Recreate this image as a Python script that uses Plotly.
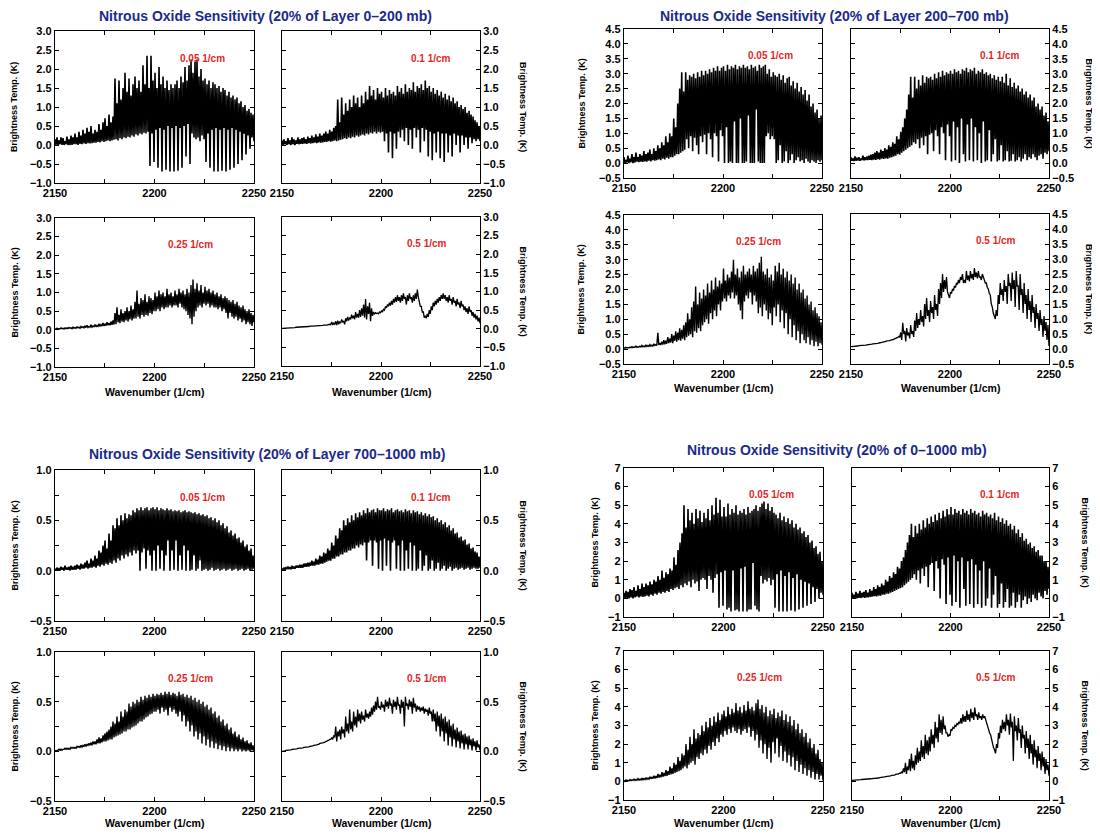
import numpy as np
import plotly.graph_objects as go

# wavenumber grid (1/cm) - each list below holds 100 line peaks and 100 troughs
wn_start, wn_end = 2150, 2250

# ---- Layer 0-200 mb ----
g1_005_hi = [0.15, 0.2, 0.12, 0.2, 0.18, 0.1, 0.22, 0.15, 0.25, 0.2,
             0.3, 0.2, 0.35, 0.25, 0.4, 0.3, 0.45, 0.35, 0.5, 0.3,
             0.4, 0.35, 0.55, 0.4, 0.6, 0.7, 0.5, 0.8, 0.6, 0.75,
             1.75, 1.1, 1.7, 1.2, 1.5, 1.9, 1.4, 1.75, 1.3, 1.6,
             1.8, 1.5, 1.7, 1.4, 2.1, 1.6, 2.35, 1.5, 2.35, 1.7,
             1.9, 1.5, 2.05, 1.6, 1.8, 1.5, 1.7, 1.45, 1.6, 1.5,
             1.6, 1.7, 1.5, 1.8, 1.65, 2.05, 1.7, 2.1, 2.25, 1.9,
             2.2, 2.25, 1.8, 2.0, 1.7, 1.75, 1.6, 1.7, 1.5, 1.65,
             1.6, 1.5, 1.55, 1.4, 1.5, 1.45, 1.3, 1.4, 1.25, 1.3,
             1.2, 1.25, 1.1, 1.15, 1.0, 1.05, 0.9, 0.95, 0.85, 0.8]
g1_005_lo = [0.0, 0.0, 0.02, 0.0, 0.0, 0.02, 0.0, 0.0, 0.0, 0.02,
             0.02, 0.0, 0.03, 0.02, 0.04, 0.03, 0.05, 0.04, 0.05, 0.06,
             0.06, 0.08, 0.07, 0.1, 0.08, 0.1, 0.12, 0.1, 0.12, 0.14,
             0.15, 0.12, 0.18, 0.15, 0.2, 0.18, 0.22, 0.2, 0.25, 0.22,
             0.28, 0.25, 0.3, 0.28, 0.32, 0.3, 0.35, -0.55, 0.3, -0.45,
             0.4, -0.6, 0.45, -0.7, 0.4, -0.65, 0.5, -0.7, 0.45, -0.7,
             0.5, -0.68, 0.45, -0.6, 0.5, -0.3, 0.55, -0.5, 0.3, 0.2,
             0.15, 0.2, 0.1, 0.25, 0.15, -0.45, 0.3, -0.6, 0.4, -0.7,
             0.45, -0.7, 0.4, -0.68, 0.45, -0.7, 0.4, -0.65, 0.45, -0.6,
             0.4, -0.5, 0.35, -0.4, 0.3, -0.25, 0.25, -0.1, 0.2, 0.1]
g1_01_hi = [0.12, 0.15, 0.1, 0.18, 0.12, 0.2, 0.15, 0.12, 0.2, 0.15,
            0.18, 0.2, 0.15, 0.22, 0.18, 0.25, 0.2, 0.28, 0.22, 0.3,
            0.25, 0.3, 0.35, 0.3, 0.4, 0.35, 0.45, 0.5, 1.2, 0.6,
            1.25, 0.8, 1.1, 0.9, 1.2, 1.0, 1.3, 1.1, 1.25, 1.0,
            1.3, 1.1, 1.4, 1.2, 1.55, 1.3, 1.45, 1.2, 1.5, 1.35,
            1.4, 1.25, 1.5, 1.3, 1.45, 1.35, 1.4, 1.3, 1.55, 1.4,
            1.5, 1.35, 1.6, 1.4, 1.5, 1.45, 1.65, 1.4, 1.55, 1.5,
            1.6, 1.45, 1.7, 1.5, 1.55, 1.4, 1.5, 1.35, 1.45, 1.3,
            1.4, 1.25, 1.35, 1.2, 1.3, 1.15, 1.25, 1.1, 1.15, 1.0,
            1.05, 0.95, 1.0, 0.85, 0.9, 0.8, 0.75, 0.65, 0.6, 0.5]
g1_01_lo = [0.0, 0.02, 0.0, 0.02, 0.0, 0.02, 0.0, 0.03, 0.02, 0.03,
            0.03, 0.04, 0.03, 0.05, 0.04, 0.05, 0.06, 0.05, 0.07, 0.06,
            0.07, 0.08, 0.08, 0.1, 0.09, 0.1, 0.12, 0.1, 0.12, 0.14,
            0.15, 0.18, 0.16, 0.2, 0.18, 0.22, 0.2, 0.25, 0.22, 0.25,
            0.28, 0.25, 0.3, 0.28, 0.32, 0.3, 0.35, 0.3, 0.35, 0.32,
            0.35, 0.1, 0.3, -0.2, 0.35, -0.35, 0.3, -0.1, 0.35, 0.2,
            0.4, 0.1, 0.45, 0.0, 0.4, -0.1, 0.45, 0.2, 0.4, -0.2,
            0.45, 0.1, 0.4, -0.3, 0.35, -0.4, 0.3, -0.2, 0.35, -0.35,
            0.3, -0.45, 0.3, -0.2, 0.25, -0.3, 0.3, 0.0, 0.25, -0.2,
            0.25, 0.0, 0.2, -0.1, 0.2, 0.05, 0.15, 0.1, 0.15, 0.1]
g1_025_hi = [0.03, 0.04, 0.03, 0.05, 0.04, 0.05, 0.05, 0.06, 0.05, 0.07,
             0.06, 0.08, 0.07, 0.09, 0.08, 0.1, 0.12, 0.09, 0.13, 0.1,
             0.14, 0.12, 0.16, 0.14, 0.18, 0.15, 0.2, 0.18, 0.22, 0.25,
             0.45, 0.6, 0.4, 0.55, 0.45, 0.5, 0.6, 0.5, 0.65, 0.55,
             0.75, 1.05, 0.7, 0.85, 0.8, 0.95, 0.75, 0.9, 0.85, 0.8,
             1.0, 0.9, 1.05, 0.95, 1.0, 0.9, 1.1, 0.95, 1.0, 0.9,
             1.05, 0.95, 1.1, 1.0, 1.05, 0.95, 1.1, 1.0, 1.2, 1.35,
             1.1, 1.25, 1.05, 1.2, 1.0, 1.15, 1.05, 1.1, 1.0, 1.05,
             0.95, 1.0, 0.9, 0.95, 0.85, 0.9, 0.85, 0.8, 0.75, 0.8,
             0.7, 0.75, 0.65, 0.6, 0.65, 0.55, 0.5, 0.55, 0.45, 0.4]
g1_025_lo = [0.01, 0.02, 0.02, 0.03, 0.02, 0.03, 0.03, 0.04, 0.03, 0.04,
             0.04, 0.05, 0.04, 0.06, 0.05, 0.06, 0.06, 0.07, 0.07, 0.08,
             0.08, 0.09, 0.09, 0.1, 0.1, 0.11, 0.12, 0.12, 0.13, 0.14,
             0.15, 0.2, 0.18, 0.22, 0.2, 0.25, 0.22, 0.28, 0.25, 0.3,
             0.3, 0.35, 0.3, 0.4, 0.35, 0.4, 0.38, 0.45, 0.42, 0.5,
             0.5, 0.55, 0.5, 0.6, 0.55, 0.6, 0.6, 0.65, 0.6, 0.65,
             0.65, 0.6, 0.7, 0.6, 0.55, 0.5, 0.4, 0.3, 0.15, 0.35,
             0.5, 0.6, 0.65, 0.6, 0.7, 0.65, 0.7, 0.6, 0.65, 0.6,
             0.6, 0.55, 0.6, 0.5, 0.55, 0.45, 0.3, 0.45, 0.35, 0.3,
             0.35, 0.25, 0.3, 0.2, 0.25, 0.15, 0.2, 0.15, 0.1, 0.2]
g1_05_hi = [0.01, 0.01, 0.02, 0.02, 0.03, 0.03, 0.03, 0.04, 0.04, 0.05,
            0.05, 0.05, 0.06, 0.06, 0.07, 0.07, 0.07, 0.08, 0.08, 0.09,
            0.09, 0.1, 0.1, 0.11, 0.12, 0.18, 0.15, 0.2, 0.22, 0.18,
            0.25, 0.2, 0.28, 0.32, 0.3, 0.38, 0.35, 0.45, 0.4, 0.5,
            0.55, 0.65, 0.8, 0.6, 0.7, 0.55, 0.45, 0.43, 0.42, 0.45,
            0.48, 0.52, 0.6, 0.65, 0.7, 0.75, 0.8, 0.85, 0.9, 0.85,
            0.9, 0.95, 0.85, 0.9, 0.95, 0.85, 0.9, 0.95, 1.05, 0.75,
            0.6, 0.45, 0.35, 0.4, 0.5, 0.6, 0.7, 0.75, 0.8, 0.85,
            0.9, 0.95, 0.9, 0.85, 0.9, 0.8, 0.85, 0.75, 0.8, 0.7,
            0.75, 0.65, 0.6, 0.55, 0.6, 0.5, 0.45, 0.4, 0.35, 0.3]
g1_05_lo = [0.01, 0.01, 0.02, 0.02, 0.02, 0.03, 0.03, 0.04, 0.04, 0.04,
            0.05, 0.05, 0.05, 0.06, 0.06, 0.07, 0.07, 0.07, 0.08, 0.08,
            0.09, 0.09, 0.1, 0.1, 0.11, 0.1, 0.12, 0.1, 0.12, 0.15,
            0.18, 0.12, 0.2, 0.22, 0.25, 0.28, 0.25, 0.3, 0.3, 0.32,
            0.35, 0.3, 0.25, 0.4, 0.2, 0.35, 0.4, 0.41, 0.4, 0.43,
            0.46, 0.5, 0.56, 0.6, 0.62, 0.65, 0.7, 0.72, 0.75, 0.7,
            0.75, 0.8, 0.65, 0.75, 0.8, 0.7, 0.75, 0.8, 0.85, 0.6,
            0.45, 0.3, 0.28, 0.32, 0.4, 0.5, 0.6, 0.65, 0.7, 0.75,
            0.8, 0.8, 0.75, 0.7, 0.75, 0.65, 0.7, 0.6, 0.65, 0.55,
            0.6, 0.5, 0.45, 0.4, 0.45, 0.35, 0.3, 0.25, 0.2, 0.15]

# ---- Layer 200-700 mb ----
g2_005_hi = [0.2, 0.1, 0.25, 0.15, 0.3, 0.2, 0.35, 0.2, 0.3, 0.25,
             0.4, 0.3, 0.35, 0.45, 0.3, 0.5, 0.4, 0.6, 0.5, 0.7,
             0.6, 0.9, 0.7, 1.0, 0.9, 1.5, 1.2, 2.0, 2.5, 3.05,
             2.4, 3.05, 2.8, 2.95, 2.9, 3.0, 2.85, 3.05, 2.9, 3.1,
             2.95, 3.1, 3.0, 3.15, 3.05, 3.2, 3.1, 3.25, 3.1, 3.2,
             3.25, 3.1, 3.3, 3.15, 3.25, 3.2, 3.3, 3.15, 3.25, 3.2,
             3.3, 3.2, 3.25, 3.15, 3.3, 3.2, 3.25, 3.1, 3.3, 3.2,
             3.25, 3.3, 3.0, 3.15, 2.9, 3.05, 2.95, 2.9, 3.0, 2.8,
             2.95, 2.7, 2.85, 2.9, 2.6, 2.75, 2.5, 2.7, 2.4, 2.55,
             2.3, 2.45, 2.1, 2.3, 1.9, 2.0, 1.7, 1.8, 1.5, 1.6]
g2_005_lo = [0.0, 0.02, 0.0, 0.03, 0.0, 0.02, 0.05, 0.03, 0.05, 0.04,
             0.06, 0.05, 0.08, 0.06, 0.1, 0.08, 0.1, 0.12, 0.1, 0.15,
             0.12, 0.18, 0.15, 0.2, 0.2, 0.25, 0.3, 0.3, 0.35, 0.4,
             0.45, 0.8, 0.5, 0.9, 0.4, 0.85, 0.6, 0.3, 0.9, 0.7,
             0.95, 0.3, 1.0, 0.8, 0.2, 1.0, 0.9, 0.05, 1.1, 0.9,
             0.0, 1.2, 0.0, 0.05, 0.0, 1.4, 0.0, 0.0, 1.5, 0.0,
             0.0, 0.05, 1.6, 0.0, 0.0, 0.0, 1.8, 0.05, 0.0, 0.0,
             0.0, 0.9, 1.0, 0.8, 0.9, 0.8, 0.0, 0.1, 0.6, 0.0,
             0.05, 0.4, 0.0, 0.1, 0.3, 0.0, 0.1, 0.2, 0.05, 0.1,
             0.0, 0.15, 0.05, 0.0, 0.1, 0.05, 0.0, 0.1, 0.05, 0.1]
g2_01_hi = [0.2, 0.15, 0.22, 0.18, 0.2, 0.15, 0.25, 0.2, 0.22, 0.25,
            0.28, 0.3, 0.35, 0.4, 0.35, 0.45, 0.4, 0.5, 0.45, 0.6,
            0.55, 0.7, 0.65, 0.9, 0.8, 1.05, 1.2, 1.5, 1.8, 2.3,
            2.9, 2.2, 2.9, 2.5, 2.8, 2.6, 2.95, 2.7, 2.9, 2.85,
            2.9, 2.8, 3.0, 2.85, 3.05, 2.9, 3.1, 2.95, 3.05, 3.0,
            3.1, 3.0, 3.15, 3.05, 3.1, 3.0, 3.15, 3.1, 3.2, 3.05,
            3.15, 3.1, 3.2, 3.0, 3.1, 3.05, 3.15, 3.0, 3.05, 2.95,
            3.0, 2.85, 2.95, 2.8, 2.9, 2.75, 2.9, 2.7, 3.0, 2.6,
            2.85, 2.55, 2.7, 2.5, 2.6, 2.4, 2.5, 2.3, 2.4, 2.2,
            2.3, 2.1, 2.2, 1.9, 2.0, 1.8, 1.9, 1.6, 1.7, 1.4]
g2_01_lo = [0.08, 0.07, 0.08, 0.09, 0.08, 0.1, 0.09, 0.1, 0.1, 0.11,
            0.1, 0.12, 0.11, 0.13, 0.12, 0.15, 0.14, 0.16, 0.15, 0.18,
            0.2, 0.22, 0.25, 0.3, 0.28, 0.35, 0.4, 0.45, 0.5, 0.55,
            0.6, 0.7, 0.65, 0.8, 0.5, 0.85, 0.6, 0.9, 0.3, 0.95,
            1.0, 0.4, 1.1, 0.9, 0.3, 1.2, 1.0, 0.1, 1.3, 0.9,
            0.05, 1.4, 0.1, 1.2, 0.0, 1.5, 0.3, 0.05, 1.3, 0.1,
            1.5, 0.05, 1.2, 0.1, 1.0, 0.0, 1.4, 0.05, 0.1, 1.1,
            0.05, 0.3, 0.8, 0.05, 0.1, 0.6, 0.05, 0.1, 0.4, 0.05,
            0.08, 0.3, 0.05, 0.1, 0.2, 0.05, 0.15, 0.3, 0.1, 0.2,
            0.15, 0.3, 0.2, 0.1, 0.25, 0.3, 0.15, 0.35, 0.3, 0.4]
g2_025_hi = [0.05, 0.06, 0.05, 0.07, 0.08, 0.07, 0.1, 0.08, 0.1, 0.12,
             0.1, 0.13, 0.12, 0.15, 0.13, 0.18, 0.15, 0.55, 0.2, 0.25,
             0.3, 0.28, 0.4, 0.35, 0.5, 0.45, 0.6, 0.55, 0.7, 0.65,
             0.8, 0.9, 1.2, 1.0, 1.4, 1.6, 2.1, 1.5, 1.9, 1.7,
             2.0, 1.8, 2.2, 1.9, 2.3, 2.0, 2.4, 2.1, 2.3, 2.2,
             2.7, 2.3, 2.5, 2.4, 2.6, 3.0, 2.5, 2.7, 2.4, 2.6,
             2.8, 2.5, 2.6, 2.7, 2.5, 2.8, 2.6, 2.7, 2.9, 3.1,
             2.6, 2.5, 2.7, 2.4, 2.5, 2.3, 2.8, 2.6, 2.9, 2.5,
             2.7, 2.4, 2.6, 2.3, 2.5, 2.2, 2.4, 2.0, 2.2, 1.9,
             2.0, 1.7, 1.8, 1.5, 1.6, 1.3, 1.4, 1.2, 1.1, 0.9]
g2_025_lo = [0.03, 0.04, 0.04, 0.05, 0.05, 0.06, 0.06, 0.07, 0.07, 0.08,
             0.08, 0.09, 0.09, 0.1, 0.1, 0.12, 0.12, 0.14, 0.14, 0.15,
             0.16, 0.18, 0.2, 0.22, 0.2, 0.28, 0.25, 0.3, 0.28, 0.35,
             0.3, 0.4, 0.45, 0.5, 0.4, 0.6, 0.55, 0.7, 0.6, 0.8,
             0.9, 1.0, 0.85, 1.2, 1.0, 1.3, 1.1, 1.5, 1.3, 1.6,
             1.7, 1.6, 1.8, 1.7, 1.9, 1.7, 1.8, 1.5, 1.3, 1.0,
             1.6, 1.8, 1.7, 1.9, 1.5, 1.8, 1.6, 1.2, 1.4, 1.1,
             1.5, 1.3, 1.0, 1.2, 0.8, 1.4, 1.1, 1.5, 0.9, 1.3,
             0.7, 1.2, 0.5, 1.0, 0.4, 0.8, 0.3, 0.6, 0.2, 0.5,
             0.3, 0.2, 0.4, 0.15, 0.3, 0.1, 0.25, 0.1, 0.2, 0.15]
g2_05_hi = [0.08, 0.09, 0.1, 0.1, 0.11, 0.12, 0.12, 0.13, 0.14, 0.15,
            0.16, 0.17, 0.18, 0.19, 0.2, 0.22, 0.23, 0.25, 0.27, 0.28,
            0.3, 0.32, 0.35, 0.38, 0.42, 0.55, 0.87, 0.6, 0.7, 0.55,
            0.8, 0.6, 0.95, 1.2, 1.0, 1.3, 1.1, 1.5, 1.7, 1.3,
            1.6, 1.4, 1.8, 1.5, 2.0, 2.2, 2.5, 2.3, 2.4, 1.8,
            1.9, 2.0, 2.1, 2.2, 2.3, 2.4, 2.5, 2.3, 2.6, 2.45,
            2.6, 2.5, 2.7, 2.55, 2.6, 2.4, 2.5, 2.3, 2.2, 2.0,
            1.8, 1.4, 1.05, 1.3, 1.8, 2.2, 2.0, 2.3, 2.1, 2.5,
            2.2, 2.55, 2.3, 2.6, 2.1, 2.5, 2.0, 2.2, 1.8, 2.0,
            1.6, 1.8, 1.4, 1.5, 1.2, 1.3, 1.0, 1.1, 0.9, 0.8]
g2_05_lo = [0.08, 0.09, 0.1, 0.1, 0.11, 0.12, 0.12, 0.13, 0.14, 0.15,
            0.16, 0.17, 0.18, 0.19, 0.2, 0.22, 0.23, 0.25, 0.27, 0.28,
            0.3, 0.32, 0.35, 0.38, 0.4, 0.3, 0.5, 0.25, 0.45, 0.35,
            0.5, 0.4, 0.6, 0.7, 0.8, 0.9, 0.75, 1.0, 1.1, 0.9,
            1.2, 1.0, 1.3, 1.1, 1.5, 1.7, 1.9, 2.0, 1.9, 1.7,
            1.85, 1.95, 2.05, 2.15, 2.2, 2.3, 2.2, 2.2, 2.3, 2.25,
            2.35, 2.3, 2.4, 2.35, 2.4, 2.3, 2.35, 2.2, 2.05, 1.85,
            1.5, 1.2, 1.0, 1.1, 1.5, 1.8, 1.6, 1.9, 1.5, 2.1,
            1.6, 2.0, 1.4, 2.1, 1.3, 1.8, 1.2, 1.5, 1.0, 1.3,
            0.9, 1.2, 0.7, 1.0, 0.6, 0.8, 0.4, 0.6, 0.3, 0.1]

# ---- Layer 700-1000 mb ----
g3_005_hi = [0.02, 0.03, 0.02, 0.04, 0.03, 0.05, 0.03, 0.04, 0.05, 0.04,
             0.05, 0.06, 0.05, 0.07, 0.06, 0.08, 0.1, 0.07, 0.12, 0.1,
             0.15, 0.12, 0.2, 0.18, 0.25, 0.3, 0.22, 0.37, 0.3, 0.45,
             0.42, 0.52, 0.45, 0.55, 0.5, 0.57, 0.52, 0.56, 0.55, 0.6,
             0.58, 0.62, 0.6, 0.63, 0.6, 0.62, 0.63, 0.6, 0.62, 0.63,
             0.61, 0.63, 0.6, 0.62, 0.61, 0.6, 0.62, 0.6, 0.61, 0.59,
             0.6, 0.59, 0.6, 0.58, 0.59, 0.6, 0.58, 0.59, 0.58, 0.57,
             0.58, 0.56, 0.57, 0.55, 0.56, 0.54, 0.55, 0.52, 0.53, 0.5,
             0.52, 0.48, 0.5, 0.45, 0.47, 0.42, 0.44, 0.38, 0.4, 0.35,
             0.37, 0.32, 0.33, 0.28, 0.3, 0.24, 0.26, 0.2, 0.22, 0.15]
g3_005_lo = [0.0, 0.01, 0.0, 0.01, 0.0, 0.01, 0.01, 0.0, 0.01, 0.01,
             0.01, 0.02, 0.01, 0.02, 0.02, 0.03, 0.02, 0.03, 0.03, 0.04,
             0.03, 0.05, 0.04, 0.06, 0.05, 0.07, 0.06, 0.08, 0.07, 0.1,
             0.08, 0.12, 0.1, 0.15, 0.12, 0.16, 0.14, 0.18, 0.15, 0.2,
             0.17, 0.2, 0.0, 0.18, 0.22, 0.02, 0.2, 0.15, 0.0, 0.2,
             0.0, 0.25, 0.02, 0.2, 0.0, 0.15, 0.3, 0.0, 0.2, 0.01,
             0.3, 0.0, 0.15, 0.01, 0.25, 0.0, 0.2, 0.0, 0.01, 0.15,
             0.0, 0.02, 0.1, 0.0, 0.01, 0.02, 0.0, 0.01, 0.03, 0.0,
             0.01, 0.02, 0.0, 0.01, 0.02, 0.0, 0.01, 0.02, 0.0, 0.01,
             0.02, 0.0, 0.01, 0.02, 0.0, 0.01, 0.02, 0.0, 0.01, 0.02]
g3_01_hi = [0.02, 0.03, 0.03, 0.04, 0.03, 0.05, 0.04, 0.05, 0.05, 0.06,
            0.06, 0.07, 0.07, 0.08, 0.08, 0.1, 0.09, 0.12, 0.11, 0.15,
            0.14, 0.18, 0.17, 0.22, 0.2, 0.28, 0.25, 0.35, 0.32, 0.42,
            0.4, 0.5, 0.45, 0.52, 0.48, 0.55, 0.5, 0.57, 0.53, 0.58,
            0.55, 0.6, 0.57, 0.62, 0.58, 0.6, 0.61, 0.58, 0.62, 0.6,
            0.6, 0.62, 0.59, 0.61, 0.6, 0.62, 0.58, 0.6, 0.61, 0.59,
            0.6, 0.58, 0.61, 0.59, 0.6, 0.57, 0.6, 0.58, 0.59, 0.56,
            0.58, 0.55, 0.57, 0.54, 0.56, 0.53, 0.54, 0.5, 0.52, 0.48,
            0.5, 0.46, 0.48, 0.43, 0.45, 0.4, 0.42, 0.37, 0.38, 0.33,
            0.34, 0.3, 0.31, 0.26, 0.27, 0.22, 0.23, 0.19, 0.18, 0.14]
g3_01_lo = [0.01, 0.01, 0.02, 0.02, 0.02, 0.02, 0.02, 0.03, 0.03, 0.03,
            0.03, 0.04, 0.04, 0.04, 0.05, 0.05, 0.05, 0.06, 0.06, 0.07,
            0.07, 0.08, 0.09, 0.1, 0.1, 0.12, 0.12, 0.14, 0.14, 0.16,
            0.16, 0.18, 0.18, 0.2, 0.2, 0.22, 0.22, 0.25, 0.23, 0.26,
            0.25, 0.28, 0.1, 0.28, 0.3, 0.05, 0.3, 0.28, 0.02, 0.3,
            0.0, 0.32, 0.05, 0.3, 0.0, 0.28, 0.3, 0.02, 0.25, 0.0,
            0.3, 0.0, 0.2, 0.02, 0.28, 0.0, 0.25, 0.0, 0.02, 0.2,
            0.0, 0.05, 0.15, 0.0, 0.02, 0.1, 0.0, 0.02, 0.08, 0.0,
            0.02, 0.05, 0.0, 0.02, 0.04, 0.0, 0.02, 0.03, 0.01, 0.02,
            0.03, 0.01, 0.02, 0.03, 0.01, 0.02, 0.03, 0.02, 0.02, 0.03]
g3_025_hi = [0.01, 0.01, 0.02, 0.02, 0.02, 0.03, 0.03, 0.03, 0.04, 0.04,
             0.04, 0.05, 0.05, 0.06, 0.06, 0.07, 0.07, 0.08, 0.09, 0.1,
             0.1, 0.12, 0.14, 0.13, 0.16, 0.18, 0.2, 0.22, 0.25, 0.3,
             0.28, 0.35, 0.3, 0.4, 0.35, 0.42, 0.4, 0.48, 0.45, 0.5,
             0.48, 0.52, 0.5, 0.55, 0.52, 0.56, 0.54, 0.57, 0.55, 0.58,
             0.56, 0.58, 0.57, 0.59, 0.57, 0.6, 0.58, 0.6, 0.57, 0.59,
             0.58, 0.56, 0.6, 0.57, 0.58, 0.55, 0.57, 0.54, 0.56, 0.52,
             0.54, 0.5, 0.52, 0.48, 0.5, 0.45, 0.47, 0.42, 0.44, 0.38,
             0.4, 0.34, 0.36, 0.3, 0.32, 0.26, 0.28, 0.22, 0.24, 0.18,
             0.2, 0.15, 0.17, 0.12, 0.14, 0.1, 0.11, 0.08, 0.09, 0.06]
g3_025_lo = [0.0, 0.01, 0.01, 0.01, 0.02, 0.02, 0.02, 0.02, 0.03, 0.03,
             0.03, 0.04, 0.04, 0.04, 0.05, 0.05, 0.06, 0.06, 0.06, 0.07,
             0.07, 0.08, 0.08, 0.09, 0.1, 0.1, 0.11, 0.12, 0.12, 0.14,
             0.15, 0.16, 0.17, 0.18, 0.2, 0.2, 0.22, 0.22, 0.24, 0.25,
             0.26, 0.28, 0.3, 0.3, 0.32, 0.34, 0.35, 0.37, 0.38, 0.4,
             0.4, 0.42, 0.38, 0.44, 0.4, 0.42, 0.36, 0.44, 0.4, 0.42,
             0.38, 0.35, 0.4, 0.3, 0.36, 0.25, 0.3, 0.2, 0.26, 0.15,
             0.2, 0.12, 0.18, 0.08, 0.15, 0.06, 0.12, 0.04, 0.1, 0.03,
             0.08, 0.02, 0.06, 0.01, 0.05, 0.0, 0.04, 0.0, 0.03, 0.0,
             0.02, 0.0, 0.02, 0.0, 0.01, 0.0, 0.01, 0.0, 0.01, 0.0]
g3_05_hi = [0.0, 0.005, 0.01, 0.01, 0.015, 0.02, 0.02, 0.025, 0.03, 0.03,
            0.035, 0.04, 0.04, 0.045, 0.05, 0.055, 0.06, 0.065, 0.07, 0.08,
            0.085, 0.09, 0.1, 0.11, 0.12, 0.14, 0.16, 0.25, 0.2, 0.22,
            0.25, 0.22, 0.35, 0.28, 0.42, 0.3, 0.4, 0.35, 0.42, 0.38,
            0.4, 0.36, 0.42, 0.38, 0.4, 0.44, 0.46, 0.5, 0.55, 0.45,
            0.5, 0.47, 0.52, 0.5, 0.54, 0.48, 0.52, 0.5, 0.55, 0.47,
            0.52, 0.5, 0.55, 0.48, 0.52, 0.5, 0.54, 0.48, 0.46, 0.45,
            0.44, 0.45, 0.43, 0.42, 0.44, 0.4, 0.42, 0.38, 0.4, 0.36,
            0.38, 0.33, 0.35, 0.3, 0.32, 0.26, 0.28, 0.22, 0.24, 0.2,
            0.21, 0.17, 0.18, 0.15, 0.16, 0.12, 0.13, 0.1, 0.11, 0.07]
g3_05_lo = [0.0, 0.005, 0.01, 0.01, 0.015, 0.02, 0.02, 0.025, 0.03, 0.03,
            0.035, 0.04, 0.04, 0.045, 0.05, 0.055, 0.06, 0.065, 0.07, 0.08,
            0.085, 0.09, 0.1, 0.11, 0.12, 0.12, 0.14, 0.1, 0.15, 0.12,
            0.18, 0.14, 0.2, 0.18, 0.22, 0.2, 0.26, 0.24, 0.3, 0.28,
            0.32, 0.3, 0.34, 0.33, 0.35, 0.37, 0.4, 0.42, 0.44, 0.42,
            0.44, 0.4, 0.45, 0.43, 0.46, 0.38, 0.45, 0.42, 0.46, 0.38,
            0.44, 0.25, 0.46, 0.42, 0.45, 0.38, 0.44, 0.4, 0.42, 0.4,
            0.41, 0.38, 0.4, 0.36, 0.38, 0.3, 0.3, 0.2, 0.25, 0.15,
            0.2, 0.1, 0.18, 0.06, 0.14, 0.05, 0.12, 0.04, 0.1, 0.03,
            0.08, 0.02, 0.07, 0.02, 0.06, 0.01, 0.05, 0.01, 0.04, 0.01]

# ---- Layer 0-1000 mb ----
g4_005_hi = [0.3, 0.4, 0.35, 0.5, 0.45, 0.6, 0.4, 0.7, 0.5, 0.8,
             0.6, 0.8, 0.7, 0.9, 0.75, 1.0, 0.9, 1.2, 1.0, 1.5,
             1.1, 1.4, 1.3, 1.6, 1.5, 2.2, 1.8, 2.6, 3.0, 3.5,
             5.0, 3.8, 4.8, 4.2, 4.6, 4.0, 4.8, 4.3, 4.7, 4.1,
             4.6, 4.3, 4.8, 4.2, 5.0, 4.5, 5.4, 4.6, 5.3, 4.4,
             4.9, 4.4, 5.1, 4.5, 4.8, 4.6, 5.0, 4.5, 4.7, 4.6,
             4.8, 4.5, 4.9, 4.6, 4.7, 4.8, 5.0, 4.7, 4.9, 5.1,
             5.2, 4.8, 5.1, 4.7, 4.9, 4.6, 4.5, 4.3, 4.6, 4.2,
             4.4, 4.1, 4.3, 4.0, 4.2, 3.8, 4.0, 3.7, 3.8, 3.5,
             3.6, 3.3, 3.4, 3.0, 3.1, 2.7, 2.8, 2.4, 2.5, 2.0]
g4_005_lo = [0.0, 0.02, 0.0, 0.05, 0.0, 0.05, 0.1, 0.05, 0.1, 0.08,
             0.1, 0.15, 0.1, 0.2, 0.15, 0.25, 0.2, 0.3, 0.25, 0.35,
             0.3, 0.4, 0.35, 0.5, 0.45, 0.55, 0.6, 0.5, 0.7, 0.6,
             0.8, 0.7, 0.9, 0.6, 1.0, 0.8, 0.9, 0.4, 1.0, 1.1,
             1.0, 0.5, 1.2, 1.0, 0.3, 1.1, 1.3, -0.5, 1.4, -0.4,
             1.5, -0.6, -0.5, -0.7, 1.5, -0.65, -0.6, -0.7, 1.6, -0.7,
             1.7, -0.7, -0.6, -0.6, 1.9, -0.4, -0.6, -0.7, 1.2, 0.8,
             1.0, 0.9, 1.1, 0.7, 1.0, -0.5, 1.3, -0.7, 1.5, -0.7,
             1.2, -0.7, 1.4, -0.65, 1.1, -0.7, 1.3, -0.6, 1.0, -0.5,
             0.9, -0.4, 0.8, -0.3, 0.6, -0.2, 0.5, 0.0, 0.3, 0.2]
g4_01_hi = [0.3, 0.2, 0.35, 0.25, 0.4, 0.3, 0.35, 0.45, 0.3, 0.5,
            0.4, 0.6, 0.5, 0.7, 0.6, 0.8, 0.7, 1.0, 0.9, 1.2,
            1.1, 1.4, 1.3, 1.7, 1.6, 2.0, 2.2, 2.6, 3.0, 3.4,
            4.0, 3.3, 3.9, 3.5, 4.0, 3.7, 4.2, 3.8, 4.3, 4.0,
            4.4, 4.1, 4.5, 4.2, 4.6, 4.3, 4.7, 4.4, 4.8, 4.5,
            4.9, 4.5, 4.8, 4.6, 4.7, 4.5, 4.8, 4.6, 4.7, 4.5,
            4.8, 4.6, 4.7, 4.5, 4.6, 4.4, 4.7, 4.5, 4.6, 4.4,
            4.5, 4.3, 4.6, 4.2, 4.4, 4.1, 4.3, 4.0, 4.2, 3.9,
            4.0, 3.7, 3.9, 3.5, 3.7, 3.3, 3.5, 3.1, 3.2, 2.9,
            3.0, 2.7, 2.8, 2.5, 2.6, 2.3, 2.3, 2.0, 2.0, 1.7]
g4_01_lo = [0.0, 0.02, 0.0, 0.03, 0.02, 0.05, 0.03, 0.05, 0.06, 0.08,
            0.1, 0.12, 0.1, 0.15, 0.15, 0.2, 0.2, 0.25, 0.25, 0.3,
            0.35, 0.4, 0.45, 0.5, 0.55, 0.6, 0.7, 0.8, 0.9, 1.0,
            1.1, 1.3, 1.0, 1.5, 0.8, 1.6, 1.2, 1.7, 0.6, 1.8,
            1.9, 0.4, 2.0, 1.6, 0.0, 2.1, 1.8, -0.3, 2.2, 0.2,
            -0.4, 2.3, -0.2, 2.0, -0.5, 2.2, 0.5, -0.4, 2.0, -0.3,
            2.1, -0.5, 1.8, -0.3, 1.5, -0.5, 2.0, -0.4, 0.0, 1.6,
            -0.5, 0.2, 1.2, -0.5, -0.3, 0.8, -0.5, -0.2, 0.5, -0.5,
            -0.4, 0.3, -0.5, -0.2, 0.2, -0.5, -0.1, 0.1, -0.3, 0.0,
            -0.2, 0.2, 0.0, -0.1, 0.3, 0.1, 0.0, 0.4, 0.2, 0.5]
g4_025_hi = [0.05, 0.08, 0.06, 0.1, 0.08, 0.12, 0.1, 0.15, 0.12, 0.18,
             0.15, 0.2, 0.18, 0.25, 0.22, 0.3, 0.28, 0.4, 0.35, 0.5,
             0.45, 0.6, 0.55, 0.8, 0.7, 1.0, 0.9, 1.3, 1.1, 1.5,
             1.4, 2.0, 1.7, 2.4, 2.0, 2.8, 2.3, 2.6, 2.5, 3.0,
             2.7, 3.2, 2.9, 3.4, 3.0, 3.5, 3.2, 3.7, 3.3, 3.6,
             3.8, 3.5, 4.0, 3.6, 3.9, 3.7, 4.2, 3.8, 4.0, 3.7,
             4.1, 3.8, 4.3, 3.9, 4.0, 3.8, 4.2, 4.4, 3.9, 4.1,
             3.7, 4.0, 3.5, 3.8, 3.6, 3.9, 3.4, 3.7, 3.5, 3.8,
             3.3, 3.6, 3.2, 3.5, 3.0, 3.3, 2.8, 3.1, 2.6, 2.8,
             2.4, 2.6, 2.1, 2.3, 1.8, 2.0, 1.5, 1.7, 1.2, 1.0]
g4_025_lo = [0.0, 0.02, 0.03, 0.04, 0.05, 0.05, 0.06, 0.07, 0.08, 0.09,
             0.1, 0.11, 0.12, 0.14, 0.15, 0.16, 0.18, 0.2, 0.22, 0.25,
             0.28, 0.3, 0.35, 0.38, 0.4, 0.45, 0.5, 0.55, 0.6, 0.7,
             0.8, 0.7, 0.9, 1.0, 1.1, 0.9, 1.3, 1.2, 1.5, 1.4,
             1.7, 1.5, 1.9, 1.7, 2.1, 1.9, 2.3, 2.1, 2.5, 2.4,
             2.7, 2.5, 2.8, 2.6, 2.9, 2.7, 2.6, 2.8, 2.5, 2.7,
             2.8, 2.6, 2.9, 2.4, 2.7, 2.2, 2.5, 1.8, 2.2, 1.5,
             2.0, 1.2, 1.8, 1.0, 2.1, 1.5, 2.3, 1.3, 1.9, 1.1,
             1.6, 1.0, 1.4, 0.8, 1.3, 0.6, 1.1, 0.5, 0.9, 0.4,
             0.7, 0.3, 0.6, 0.2, 0.5, 0.1, 0.4, 0.1, 0.3, 0.05]
g4_05_hi = [0.05, 0.06, 0.07, 0.08, 0.09, 0.1, 0.11, 0.12, 0.13, 0.14,
            0.15, 0.16, 0.17, 0.18, 0.2, 0.22, 0.24, 0.26, 0.28, 0.3,
            0.32, 0.34, 0.37, 0.4, 0.44, 0.5, 0.7, 1.0, 0.8, 1.2,
            1.5, 1.1, 1.4, 1.8, 1.6, 2.2, 1.9, 2.5, 2.2, 2.4,
            2.8, 2.5, 3.2, 2.9, 3.6, 3.3, 3.5, 3.0, 2.6, 2.5,
            2.8, 2.9, 3.0, 3.1, 3.2, 3.4, 3.6, 3.5, 3.8, 3.6,
            3.9, 3.7, 3.96, 3.6, 3.7, 3.5, 3.6, 3.5, 3.2, 2.8,
            2.5, 2.1, 1.7, 2.0, 2.6, 3.0, 3.3, 3.2, 3.6, 3.3,
            3.64, 3.2, 3.5, 3.0, 3.4, 2.8, 3.0, 2.5, 2.7, 2.3,
            2.5, 2.0, 2.2, 1.7, 1.9, 1.5, 1.6, 1.3, 1.2, 0.9]
g4_05_lo = [0.05, 0.06, 0.07, 0.08, 0.09, 0.1, 0.11, 0.12, 0.13, 0.14,
            0.15, 0.16, 0.17, 0.18, 0.2, 0.22, 0.24, 0.26, 0.28, 0.3,
            0.32, 0.34, 0.37, 0.4, 0.43, 0.45, 0.5, 0.4, 0.6, 0.55,
            0.7, 0.6, 0.9, 1.0, 1.1, 1.3, 1.2, 1.5, 1.4, 1.6,
            2.0, 1.8, 2.3, 2.1, 2.6, 2.5, 2.8, 2.6, 2.4, 2.45,
            2.75, 2.85, 2.95, 3.05, 3.1, 3.1, 3.2, 3.2, 3.3, 3.2,
            3.4, 3.3, 3.5, 3.3, 3.4, 3.3, 3.4, 3.3, 3.0, 2.6,
            2.2, 1.8, 1.5, 1.8, 2.3, 2.6, 2.8, 2.7, 3.0, 2.5,
            2.9, 1.1, 2.7, 2.2, 2.6, 1.8, 2.3, 1.5, 1.8, 1.2,
            1.5, 0.9, 1.3, 0.7, 1.1, 0.6, 0.8, 0.4, 0.6, 0.3]

resolutions = ["0.05 1/cm", "0.1 1/cm", "0.25 1/cm", "0.5 1/cm"]

# each group: title, y ticks, page-pixel boxes of its 4 panels (x0, x1, y0, y1)
groups = [
    dict(title="Nitrous Oxide Sensitivity (20% of Layer 0\u2013200 mb)", tx=265, ty=16,
         yrange=[-1, 3], yticks=[-1, -0.5, 0, 0.5, 1, 1.5, 2, 2.5, 3],
         ytext=["\u22121.0", "\u22120.5", "0.0", "0.5", "1.0", "1.5", "2.0", "2.5", "3.0"],
         data=[(g1_005_hi, g1_005_lo), (g1_01_hi, g1_01_lo), (g1_025_hi, g1_025_lo), (g1_05_hi, g1_05_lo)],
         boxes=[(55, 254, 31, 183), (282, 480, 31, 183), (55, 254, 218, 367), (282, 480, 217, 366)],
         ylab_left=14, ylab_right=523, wn_y=392),
    dict(title="Nitrous Oxide Sensitivity (20% of Layer 200\u2013700 mb)", tx=834, ty=16,
         yrange=[-0.5, 4.5], yticks=[-0.5, 0, 0.5, 1, 1.5, 2, 2.5, 3, 3.5, 4, 4.5],
         ytext=["\u22120.5", "0.0", "0.5", "1.0", "1.5", "2.0", "2.5", "3.0", "3.5", "4.0", "4.5"],
         data=[(g2_005_hi, g2_005_lo), (g2_01_hi, g2_01_lo), (g2_025_hi, g2_025_lo), (g2_05_hi, g2_05_lo)],
         boxes=[(624, 822, 29, 178), (851, 1049, 29, 178), (624, 822, 215, 364), (851, 1049, 214, 364)],
         ylab_left=581, ylab_right=1089, wn_y=388),
    dict(title="Nitrous Oxide Sensitivity (20% of Layer 700\u20131000 mb)", tx=267, ty=454,
         yrange=[-0.5, 1.0], yticks=[-0.5, -0.25, 0, 0.25, 0.5, 0.75, 1.0],
         ytext=["\u22120.5", "", "0.0", "", "0.5", "", "1.0"],
         data=[(g3_005_hi, g3_005_lo), (g3_01_hi, g3_01_lo), (g3_025_hi, g3_025_lo), (g3_05_hi, g3_05_lo)],
         boxes=[(55, 254, 470, 621), (282, 480, 470, 621), (55, 254, 652, 801), (282, 480, 652, 801)],
         ylab_left=14, ylab_right=523, wn_y=823),
    dict(title="Nitrous Oxide Sensitivity (20% of 0\u20131000 mb)", tx=837, ty=450,
         yrange=[-1, 7], yticks=[-1, 0, 1, 2, 3, 4, 5, 6, 7],
         ytext=["\u22121", "0", "1", "2", "3", "4", "5", "6", "7"],
         data=[(g4_005_hi, g4_005_lo), (g4_01_hi, g4_01_lo), (g4_025_hi, g4_025_lo), (g4_05_hi, g4_05_lo)],
         boxes=[(624, 823, 468, 617), (852, 1049, 468, 617), (624, 823, 651, 800), (852, 1049, 651, 800)],
         ylab_left=594, ylab_right=1085, wn_y=823),
]

# the page puts the figure 8px in from the top-left corner
OFF = 8
W, H = 1100 - OFF, 834 - OFF
FONT = "Liberation Sans"
label_frac = [0.74, 0.75, 0.68, 0.73]
line_w = [1.6, 1.6, 1.4, 1.3]


def px(x):
    return (x - OFF) / W


def py(y):
    return 1 - (y - OFF) / H


def note(x, y, text, size, color="black", angle=0):
    return dict(x=px(x), y=py(y), xref="paper", yref="paper", text=text,
                xanchor="center", yanchor="middle", textangle=angle, showarrow=False,
                font=dict(family=FONT, size=size, color=color, weight="bold"))


fig = go.Figure()
annotations = []
layout_axes = {}
n = 0
for g in groups:
    annotations.append(note(g["tx"], g["ty"], g["title"], 14, "#1b2a8c"))
    for p, ((hi, lo), box, res) in enumerate(zip(g["data"], g["boxes"], resolutions)):
        n += 1
        x0, x1, y0, y1 = box
        # interleave line peaks and troughs along the wavenumber axis
        spec = np.empty(2 * len(hi))
        spec[0::2] = hi
        spec[1::2] = lo
        wn = np.linspace(wn_start, wn_end, len(spec))
        xa = "x" if n == 1 else f"x{n}"
        ya = "y" if n == 1 else f"y{n}"
        fig.add_trace(go.Scatter(x=wn, y=spec, mode="lines", xaxis=xa, yaxis=ya,
                                 line=dict(color="black", width=line_w[p]), showlegend=False,
                                 hoverinfo="skip"))
        right = p % 2 == 1
        layout_axes["xaxis" if n == 1 else f"xaxis{n}"] = dict(
            domain=[px(x0), px(x1)], anchor=ya, range=[wn_start, wn_end], automargin=False,
            tickvals=[2150, 2175, 2200, 2225, 2250], ticktext=["2150", "", "2200", "", "2250"],
            ticks="inside", ticklen=4, tickwidth=1, tickcolor="black",
            showline=True, linecolor="black", linewidth=1.3, mirror="ticks",
            showgrid=False, zeroline=False,
            tickfont=dict(family=FONT, size=11, color="black", weight="bold"))
        layout_axes["yaxis" if n == 1 else f"yaxis{n}"] = dict(
            domain=[py(y1), py(y0)], anchor=xa, range=g["yrange"], automargin=False,
            tickvals=g["yticks"], ticktext=g["ytext"], side="right" if right else "left",
            ticks="inside", ticklen=4, tickwidth=1, tickcolor="black",
            showline=True, linecolor="black", linewidth=1.3, mirror="ticks",
            showgrid=False, zeroline=False,
            tickfont=dict(family=FONT, size=11, color="black", weight="bold"))
        annotations.append(note(x0 + label_frac[p] * (x1 - x0), y0 + 0.18 * (y1 - y0),
                                res, 10, "#e3261f"))
        ymid = (y0 + y1) / 2
        if right:
            annotations.append(note(g["ylab_right"], ymid, "Brightness Temp. (K)", 9, angle=90))
        else:
            annotations.append(note(g["ylab_left"], ymid, "Brightness Temp. (K)", 9, angle=-90))
        if p >= 2:
            annotations.append(note((x0 + x1) / 2, g["wn_y"], "Wavenumber (1/cm)", 10.5))

fig.update_layout(width=W, height=H, margin=dict(l=0, r=0, t=0, b=0, autoexpand=False),
                  paper_bgcolor="white", plot_bgcolor="white",
                  annotations=annotations, **layout_axes)
fig.write_html("out.html")
